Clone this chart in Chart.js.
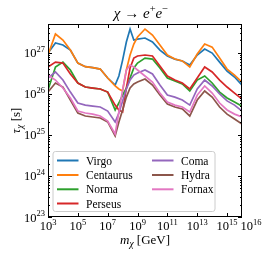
<!DOCTYPE html>
<html><head><meta charset="utf-8">
<script src="https://cdn.jsdelivr.net/npm/chart.js@4"></script>
<style>html,body{margin:0;padding:0;background:#fff;overflow:hidden}</style>
</head><body>
<canvas id="c" width="269" height="256" style="width:269px;height:256px;display:block"></canvas>
<script>
// Dark-matter mass grid [GeV]
const masses = [1e3, 3.16e3, 1e4, 3.16e4, 1e5, 3.16e5, 1e6, 3.16e6, 1e7, 3.16e7, 5.62e7, 1e8, 1.78e8, 3.16e8, 5.62e8,
  1e9, 3.16e9, 1e10, 3.16e10, 1e11, 3.16e11, 1e12, 3.16e12, 1e13, 3.16e13, 1e14, 3.16e14, 1e15, 3.16e15, 1e16];

// Lifetime lower limits tau [s]
const virgo = [9.8e26, 1.72e27, 1.54e27, 1.16e27, 5.6e26, 4.56e26, 4.35e26, 4.0e26, 2.42e26, 1.63e26, 2.71e26, 6.6e26, 1.82e27, 3.77e27, 2.04e27,
  2.15e27, 2.28e27, 1.82e27, 1.16e27, 8.3e26, 7.0e26, 6.3e26, 5.0e26, 8.8e26, 1.23e27, 9.8e26, 5.9e26, 3.58e26, 2.56e26, 1.63e26];
const centaurus = [8.8e26, 2.85e27, 2.04e27, 1.16e27, 5.6e26, 4.56e26, 4.35e26, 4.0e26, 2.42e26, 1.55e26, 1.31e26, 1.17e26, 3.79e26, 8.8e26, 1.63e27,
  2.41e27, 3.77e27, 2.69e27, 1.54e27, 8.8e26, 7.0e26, 6.3e26, 4.5e26, 9.3e26, 1.63e27, 1.37e27, 7.4e26, 4.0e26, 2.86e26, 1.93e26];
const norma = [1.24e26, 4.5e26, 5.9e26, 3.79e26, 1.83e26, 1.46e26, 1.38e26, 1.31e26, 1.10e26, 4.03e25, 5.96e25, 9.3e25, 1.38e26, 2.42e26, 4.24e26,
  5.6e26, 7.4e26, 7.0e26, 4.24e26, 2.42e26, 2.05e26, 1.73e26, 1.17e26, 2.16e26, 2.71e26, 1.83e26, 1.10e26, 7.9e25, 6.3e25, 5.0e25];
const perseus = [4.5e26, 5.9e26, 5.6e26, 3.03e26, 1.83e26, 1.46e26, 1.38e26, 1.31e26, 1.10e26, 5.3e25, 4.03e25, 3.6e25, 1.38e26, 4.24e26, 7.4e26,
  8.3e26, 8.8e26, 8.3e26, 4.74e26, 2.71e26, 2.16e26, 1.83e26, 1.31e26, 2.42e26, 4.5e26, 3.39e26, 2.16e26, 1.46e26, 1.04e26, 7.45e25];
const coma = [2.42e26, 3.39e26, 2.16e26, 1.10e26, 5.96e25, 5.3e25, 5.0e25, 4.76e25, 3.8e25, 2.06e25, 3.4e25, 6.7e25, 1.31e26, 2.16e26, 2.86e26,
  3.2e26, 3.79e26, 3.03e26, 1.63e26, 9.3e25, 8.3e25, 7.05e25, 5.3e25, 1.31e26, 2.16e26, 1.55e26, 9.9e25, 6.7e25, 5.3e25, 3.8e25];
const hydra = [1.10e26, 1.83e26, 1.46e26, 7.05e25, 3.4e25, 2.88e25, 2.72e25, 2.57e25, 2.06e25, 9.4e24, 2.06e25, 4.03e25, 8.3e25, 1.38e26, 1.73e26,
  1.93e26, 2.29e26, 1.63e26, 9.3e25, 5.6e25, 4.76e25, 4.26e25, 2.88e25, 7.05e25, 1.17e26, 8.3e25, 4.76e25, 3.2e25, 2.43e25, 1.84e25];
const fornax = [2.86e26, 2.16e26, 1.38e26, 7.9e25, 3.8e25, 3.4e25, 3.2e25, 2.88e25, 2.17e25, 1.05e25, 3.6e25, 1.24e26, 3.79e26, 5.0e26, 4.5e26,
  3.79e26, 2.71e26, 1.93e26, 1.04e26, 6.3e25, 5.3e25, 4.76e25, 3.6e25, 9.3e25, 1.55e26, 1.04e26, 5.96e25, 4.03e25, 3.2e25, 2.72e25];

const seriesNames = ['Virgo', 'Centaurus', 'Norma', 'Perseus', 'Coma', 'Hydra', 'Fornax'];
const seriesValues = [virgo, centaurus, norma, perseus, coma, hydra, fornax];
const seriesColors = ['#1f77b4', '#ff7f0e', '#2ca02c', '#d62728', '#9467bd', '#8c564b', '#e377c2'];

const xTickExps = [3, 5, 7, 9, 11, 13, 15, 16];
const yTickExps = [23, 24, 25, 26, 27];
const xMin = 1e3, xMax = 1e16, yMin = 1e23, yMax = 5e27;

const SERIF = '"Liberation Serif", "DejaVu Serif", serif';

function drawRich(ctx, segs, x, y, align) {
  let w = 0;
  for (const s of segs) {
    ctx.font = (s.italic ? 'italic ' : '') + s.size + 'px ' + SERIF;
    s.w = ctx.measureText(s.t).width;
    w += s.w;
  }
  let cx = align === 'center' ? x - w / 2 : (align === 'right' ? x - w : x);
  ctx.textAlign = 'left';
  ctx.textBaseline = 'alphabetic';
  for (const s of segs) {
    ctx.font = (s.italic ? 'italic ' : '') + s.size + 'px ' + SERIF;
    ctx.fillText(s.t, cx, y + (s.dy || 0));
    cx += s.w;
  }
}

function powSegs(e) {
  return [{t: '10', size: 12.5}, {t: String(e), size: 8.5, dy: -5.5}];
}

const decor = {
  id: 'decor',
  afterDatasetsDraw(chart) {
    const ctx = chart.ctx;
    const a = chart.chartArea;
    const xs = chart.scales.x, ys = chart.scales.y;
    const L = Math.round(a.left), R = Math.round(a.right), T = Math.round(a.top), B = Math.round(a.bottom);
    ctx.save();
    ctx.fillStyle = '#000';
    ctx.strokeStyle = '#000';
    ctx.lineWidth = 1;
    ctx.beginPath();
    for (let k = 23; k <= 27; k++) {
      for (let m = 1; m <= 9; m++) {
        const v = m * Math.pow(10, k);
        if (v > yMax) break;
        const py = Math.round(ys.getPixelForValue(v)) + 0.5;
        const len = m === 1 ? 4 : 2;
        ctx.moveTo(L, py); ctx.lineTo(L + len, py);
        ctx.moveTo(R, py); ctx.lineTo(R - len, py);
      }
    }
    for (const e of xTickExps) {
      if (e >= 16) continue;
      const px = Math.round(xs.getPixelForValue(Math.pow(10, e))) + 0.5;
      ctx.moveTo(px, B); ctx.lineTo(px, B - 4);
      ctx.moveTo(px, T); ctx.lineTo(px, T + 4);
    }
    ctx.stroke();
    ctx.strokeRect(L + 0.5, T + 0.5, R - L - 1, B - T - 1);

    for (const e of yTickExps) {
      const py = ys.getPixelForValue(Math.pow(10, e));
      drawRich(ctx, powSegs(e), L - 3, py + 4.5, 'right');
    }
    for (const e of xTickExps) {
      let px = xs.getPixelForValue(Math.pow(10, e));
      if (e === 16) px += 9;
      drawRich(ctx, powSegs(e), px, B + 13, 'center');
    }
    drawRich(ctx, [{t: 'm', size: 13, italic: true}, {t: 'χ', size: 9.5, italic: true, dy: 3}, {t: ' [GeV]', size: 13}], (L + R) / 2, 244, 'center');
    ctx.save();
    ctx.translate(20, (T + B) / 2);
    ctx.rotate(-Math.PI / 2);
    drawRich(ctx, [{t: 'τ', size: 13, italic: true}, {t: 'χ', size: 9.5, italic: true, dy: 3}, {t: ' [s]', size: 13}], 0, 0, 'center');
    ctx.restore();
    drawRich(ctx, [{t: 'χ', size: 15, italic: true}, {t: ' → ', size: 15}, {t: 'e', size: 15, italic: true},
      {t: '+', size: 10.5, dy: -6}, {t: 'e', size: 15, italic: true}, {t: '−', size: 10.5, dy: -6}], (L + R) / 2 - 4, 17.5, 'center');

    const lx = 53, ly = 151.5, lw = 162, lh = 60;
    ctx.beginPath();
    if (ctx.roundRect) ctx.roundRect(lx, ly, lw, lh, 2.5); else ctx.rect(lx, ly, lw, lh);
    ctx.fillStyle = 'rgba(255,255,255,0.8)';
    ctx.fill();
    ctx.strokeStyle = '#cccccc';
    ctx.lineWidth = 1;
    ctx.stroke();
    const colX = [57, 152];
    const rowY = [160.5, 175, 189.3, 203.5];
    seriesNames.forEach((name, i) => {
      const col = i < 4 ? 0 : 1;
      const row = i < 4 ? i : i - 4;
      const x0 = colX[col], y0 = rowY[row];
      ctx.strokeStyle = seriesColors[i];
      ctx.lineWidth = 2;
      ctx.beginPath();
      ctx.moveTo(x0, y0); ctx.lineTo(x0 + 21.5, y0);
      ctx.stroke();
      ctx.fillStyle = '#000';
      drawRich(ctx, [{t: name, size: 11.5}], x0 + 29, y0 + 4, 'left');
    });
    ctx.restore();
  }
};

const datasets = seriesValues.map((vals, i) => ({
  label: seriesNames[i],
  data: masses.map((m, j) => ({x: m, y: vals[j]})),
  borderColor: seriesColors[i],
  backgroundColor: seriesColors[i],
  borderWidth: 1.7,
  pointRadius: 0,
  fill: false,
  tension: 0,
  order: 10 - i
}));

new Chart(document.getElementById('c'), {
  type: 'line',
  data: {datasets},
  options: {
    responsive: false,
    animation: false,
    devicePixelRatio: 1,
    layout: {padding: {left: 48, right: 27, top: 24, bottom: 39}},
    plugins: {legend: {display: false}, tooltip: {enabled: false}, title: {display: false}},
    scales: {
      x: {type: 'logarithmic', min: xMin, max: xMax, display: false},
      y: {type: 'logarithmic', min: yMin, max: yMax, display: false}
    }
  },
  plugins: [decor]
});
</script>
</body></html>
